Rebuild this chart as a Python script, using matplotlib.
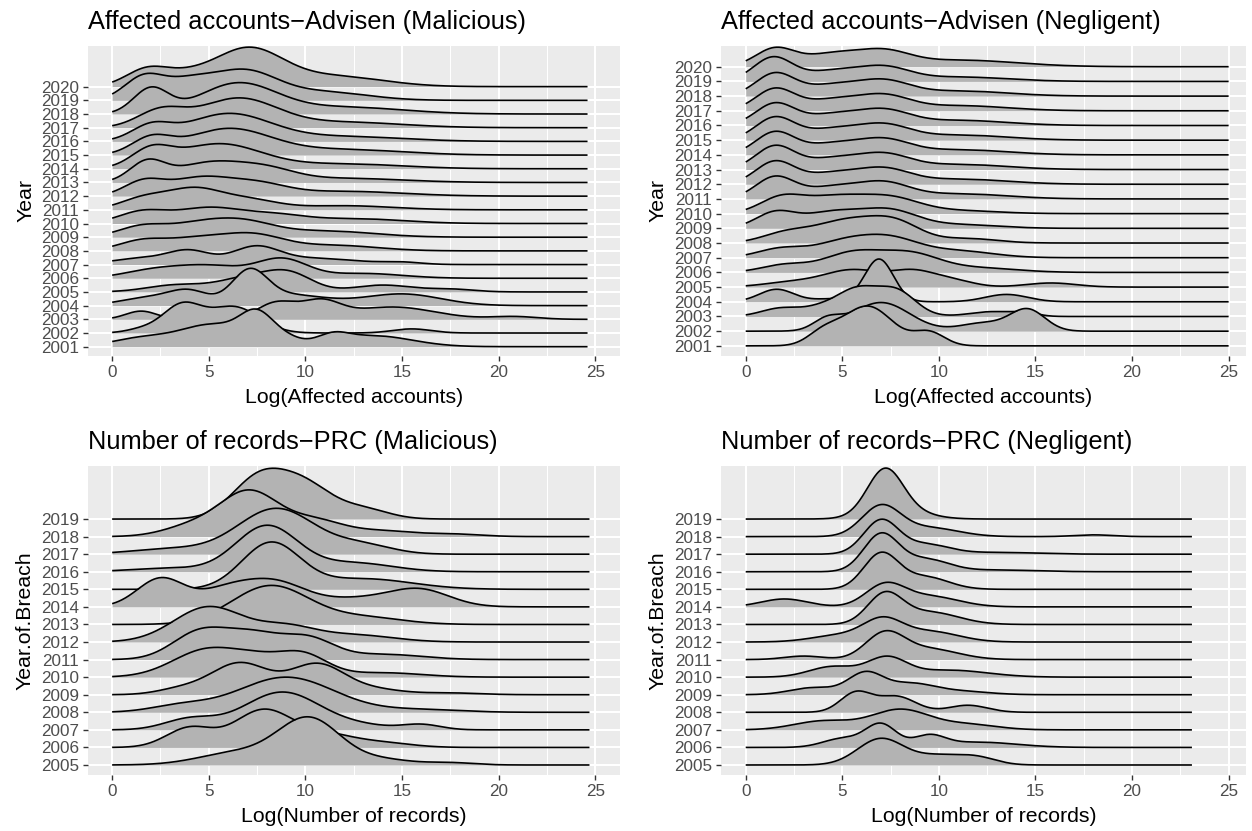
import numpy as np
import matplotlib.pyplot as plt

plt.rcParams['font.family'] = ['Liberation Sans', 'DejaVu Sans']

# ---- data: each ridge is a density given as Gaussian components (centre, sd, height in row units)
adv_years = list(range(2001, 2021))
prc_years = list(range(2005, 2020))

adv_malicious = [
    [(1.5, 1.5, 0.6), (5.2, 1.7, 1.6), (7.5, 0.85, 2.0), (9.0, 0.8, 0.5), (11.4, 0.8, 0.6), (13.5, 2.0, 0.8)],  # 2001
    [(1.5, 0.8, 0.25), (3.6, 1.0, 2.0), (6.3, 1.3, 1.9), (15.5, 1.0, 0.3)],                 # 2002
    [(1.5, 0.8, 0.6), (8.5, 1.0, 1.2), (10.8, 1.0, 1.2), (14.5, 2.2, 0.9), (20.8, 1.2, 0.2)],  # 2003
    [(2, 1.5, 0.6), (4, 1.0, 0.9), (7.1, 0.9, 2.2), (9, 2, 0.8), (15, 2.0, 0.85)],           # 2004
    [(3.3, 1.5, 0.5), (7, 1.5, 1.0), (9.2, 1.2, 1.2), (14, 1.5, 0.5), (17.5, 1.2, 0.2)],    # 2005
    [(2.0, 1.5, 0.5), (5.0, 1.8, 0.9), (8.8, 1.3, 1.35), (13, 2, 0.35)],                    # 2006
    [(1.5, 1.5, 0.45), (4.0, 1.1, 0.95), (7.4, 1.2, 1.2), (10.5, 2.2, 0.45), (15, 1, 0.15)],  # 2007
    [(1.5, 1.2, 0.7), (4.2, 1.5, 0.8), (7.2, 1.6, 1.15), (11.5, 2.2, 0.4)],                 # 2008
    [(1.5, 1.2, 0.75), (4.2, 1.5, 0.8), (6.7, 1.6, 1.05), (11, 2.5, 0.45)],                 # 2009
    [(1.5, 1.2, 0.8), (5.0, 1.8, 1.15), (8.5, 1.5, 0.5), (12.5, 2.5, 0.35)],                # 2010
    [(1.6, 1.2, 0.8), (4.2, 1.4, 1.45), (7, 1.5, 0.7), (12, 2.5, 0.3)],                     # 2011
    [(1.6, 1.0, 1.0), (4.5, 1.6, 1.3), (7.5, 1.5, 0.8), (12, 3, 0.35)],                     # 2012
    [(1.8, 0.9, 1.4), (5, 1.8, 1.4), (8, 1.5, 0.8), (12, 3, 0.3)],                          # 2013
    [(2, 1, 1.2), (5.5, 2.2, 1.8), (12, 3, 0.35)],                                          # 2014
    [(2, 1, 1.1), (6, 2.2, 1.9), (12, 3, 0.4)],                                             # 2015
    [(2, 1, 1.0), (6, 2.2, 2.0), (12, 3, 0.35)],                                            # 2016
    [(2.5, 1.2, 1.2), (6.5, 2, 2.1), (12, 3, 0.4)],                                         # 2017
    [(2, 0.9, 1.8), (6.5, 2, 2.2), (12, 3, 0.5)],                                           # 2018
    [(1.6, 1.0, 1.6), (3.8, 1.3, 1.2), (6.8, 1.7, 2.1), (11, 2.2, 0.6)],                    # 2019
    [(1.8, 1.1, 1.25), (3.8, 1.2, 0.6), (7.0, 1.8, 2.72), (11.5, 2.5, 0.75)],               # 2020
]

adv_negligent = [
    [(4.0, 0.8, 0.8), (6.3, 1.3, 2.7), (9.5, 0.8, 0.9)],                                    # 2001
    [(4.2, 0.7, 0.7), (7.0, 1.5, 1.95), (12.3, 1.2, 0.55), (14.6, 0.9, 1.45)],              # 2002
    [(1.8, 1.0, 0.55), (4.0, 1.0, 0.6), (5.8, 1.0, 1.7), (7.8, 1.0, 1.7), (12.8, 1.2, 0.33), (14.5, 0.6, 0.2)],  # 2003
    [(1.6, 0.9, 0.85), (4.5, 1.0, 0.2), (6.9, 0.75, 2.9), (13.5, 1.1, 0.5)],                # 2004
    [(2.5, 1.5, 0.35), (5.5, 1.4, 1.1), (8.7, 1.3, 1.1), (11, 1.0, 0.3), (15.8, 1.3, 0.28)],  # 2005
    [(2.0, 1.2, 0.5), (5.5, 1.5, 1.3), (8.5, 1.5, 1.2), (12, 2, 0.3)],                      # 2006
    [(1.8, 1.2, 0.6), (5.0, 1.5, 1.0), (7.5, 1.5, 1.2), (11, 1.8, 0.45)],                   # 2007
    [(2.0, 1.2, 0.6), (5.2, 1.7, 1.5), (7.8, 1.3, 1.2), (11.5, 1.5, 0.3)],                  # 2008
    [(1.5, 1.0, 1.0), (4.5, 1.6, 1.1), (7.5, 1.4, 1.1), (11, 2, 0.25)],                     # 2009
    [(1.8, 1.1, 1.0), (4.5, 1.6, 1.1), (7.5, 1.5, 1.0), (11, 2, 0.2)],                      # 2010
    [(1.5, 1.0, 1.45), (4.5, 1.5, 0.8), (7.2, 1.3, 0.95), (11, 2.5, 0.35)],                 # 2011
    [(1.5, 1.0, 1.5), (4.5, 1.5, 0.75), (7.2, 1.3, 0.9), (11, 2.5, 0.35)],                  # 2012
    [(1.5, 1.0, 1.55), (4.5, 1.5, 0.75), (7.2, 1.3, 0.9), (11, 2.5, 0.35)],                 # 2013
    [(1.5, 1.0, 1.5), (4.5, 1.5, 0.75), (7.2, 1.3, 0.9), (11, 2.5, 0.35)],                  # 2014
    [(1.5, 1.0, 1.5), (4.5, 1.5, 0.75), (7.2, 1.3, 0.9), (11, 2.5, 0.35)],                  # 2015
    [(1.5, 1.0, 1.45), (4.5, 1.5, 0.75), (7.2, 1.3, 0.9), (11, 2.5, 0.35)],                 # 2016
    [(1.5, 1.0, 1.45), (4.5, 1.5, 0.75), (7.2, 1.3, 0.9), (11, 2.5, 0.35)],                 # 2017
    [(1.5, 1.0, 1.5), (4.5, 1.5, 0.75), (7.2, 1.3, 0.9), (11, 2.5, 0.35)],                  # 2018
    [(1.4, 1.0, 1.6), (4.5, 1.5, 0.7), (7.2, 1.3, 0.85), (11, 2.5, 0.3)],                   # 2019
    [(1.5, 1.0, 1.2), (4.5, 1.5, 0.85), (7.2, 1.3, 0.85), (11, 3, 0.45)],                   # 2020
]

prc_malicious = [
    [(6.5, 2.0, 0.7), (10.2, 1.6, 2.6), (14, 1.5, 0.3), (17.5, 1.2, 0.13)],                 # 2005
    [(4.0, 1.2, 1.1), (7.8, 1.5, 2.1), (11, 1.5, 0.7), (14, 1.5, 0.25)],                    # 2006
    [(4, 1.3, 0.6), (8.8, 2.0, 2.15), (13, 1.5, 0.2), (16, 1, 0.3)],                        # 2007
    [(3.5, 1.5, 0.35), (9, 2.5, 2.0), (16, 2, 0.15)],                                       # 2008
    [(3.5, 1.2, 0.3), (6.6, 1.5, 1.8), (10.6, 1.4, 1.7), (13.5, 1.5, 0.3), (17.5, 1.5, 0.1)],  # 2009
    [(5.0, 1.8, 1.6), (7.5, 1.2, 0.6), (9.8, 1.3, 1.3), (14, 2, 0.25)],                     # 2010
    [(4.5, 1.4, 1.5), (7.3, 1.5, 1.4), (10.2, 1.3, 1.1), (14, 2, 0.3)],                     # 2011
    [(5.0, 1.8, 2.0), (9, 1.5, 0.8), (12.5, 2, 0.4)],                                       # 2012
    [(8.2, 2, 2.2), (13, 2, 0.4)],                                                          # 2013
    [(2.5, 1.2, 1.6), (6, 1.5, 1.0), (8.5, 1.5, 1.2), (13, 2.5, 0.5), (16, 1.5, 0.8)],      # 2014
    [(8.2, 1.5, 2.6), (13, 2.5, 0.6)],                                                      # 2015
    [(3, 2, 0.2), (8, 1.6, 2.6), (12.5, 2, 0.5)],                                           # 2016
    [(3, 2, 0.3), (8.5, 2.0, 2.6), (13, 1.5, 0.5)],                                         # 2017
    [(4.2, 1.5, 0.6), (7.1, 1.5, 2.5), (10.5, 1.5, 0.9), (14, 1.5, 0.3), (17.5, 1.5, 0.15)],  # 2018
    [(7.6, 1.4, 2.3), (10.0, 1.4, 1.8), (13, 1.3, 0.55)],                                   # 2019
]

prc_negligent = [
    [(7, 1.2, 1.5), (10, 1.2, 0.5), (12, 1, 0.4)],                                          # 2005
    [(5, 1, 0.5), (7, 0.8, 1.3), (9.5, 0.8, 0.6), (12, 2, 0.3)],                            # 2006
    [(4, 1.5, 0.5), (8, 1.5, 1.15), (11.5, 1.5, 0.3)],                                      # 2007
    [(5.7, 0.8, 1.1), (7.8, 1, 0.9), (11.5, 1, 0.4)],                                       # 2008
    [(3.5, 1.2, 0.4), (6.2, 0.9, 1.2), (8.5, 1.2, 0.6), (11, 1.5, 0.2)],                    # 2009
    [(4.5, 1.2, 0.6), (7.3, 1.0, 1.05), (10.5, 2, 0.4)],                                    # 2010
    [(3, 1, 0.2), (7.2, 1.0, 1.45), (9.5, 1.5, 0.6)],                                       # 2011
    [(5, 1.5, 0.4), (7.1, 1.0, 1.12), (9.5, 1.5, 0.6)],                                     # 2012
    [(7.2, 0.9, 1.65), (9.5, 1.5, 0.7)],                                                    # 2013
    [(2, 1.2, 0.45), (7.2, 1.0, 1.2), (9.5, 1.5, 0.6)],                                     # 2014
    [(7, 0.9, 2.0), (9.3, 1.2, 0.7)],                                                       # 2015
    [(7, 0.9, 2.1), (9.3, 1.2, 0.7), (13, 2, 0.1)],                                         # 2016
    [(7, 0.9, 1.9), (9.3, 1.2, 0.55), (13, 2, 0.1)],                                        # 2017
    [(7.0, 1.0, 1.7), (9.5, 1.5, 0.5), (18, 1, 0.1)],                                       # 2018
    [(7.2, 0.9, 2.35), (7.8, 1.4, 0.6)],                                                    # 2019
]

W, H = 1252, 831
fig = plt.figure(figsize=(W / 100, H / 100), dpi=100)
fig.patch.set_facecolor('white')

BG = '#EBEBEB'
FILL = '#B3B3B3'


def px_rect(l, t, r, b):
    return [l / W, 1 - b / H, (r - l) / W, (b - t) / H]


def ridge_panel(box, years, ridges, x_end, xlim, ylim, title, xlabel, ylabel, ylab_x):
    l, t, r, b = box
    ax = fig.add_axes(px_rect(l, t, r, b))
    ax.set_facecolor(BG)
    n = len(years)
    x = np.linspace(0, x_end, 800)
    for i in range(n - 1, -1, -1):
        dens = np.zeros_like(x)
        for mu, sd, h in ridges[i]:
            dens += h * np.exp(-0.5 * ((x - mu) / sd) ** 2)
        z = 3 + 2 * (n - i)
        ax.fill_between(x, i, i + dens, color=FILL, lw=0, zorder=z)
        ax.plot(x, i + dens, color='black', lw=1.2, zorder=z + 1,
                solid_capstyle='butt')
    ax.set_xlim(*xlim)
    ax.set_ylim(*ylim)
    ax.set_xticks([0, 5, 10, 15, 20, 25])
    ax.set_xticks([2.5, 7.5, 12.5, 17.5, 22.5], minor=True)
    ax.set_yticks(range(n))
    ax.set_yticklabels([str(y) for y in years])
    ax.grid(which='major', color='white', lw=1.5, zorder=1)
    ax.grid(which='minor', axis='x', color='white', lw=0.75, zorder=1)
    ax.set_axisbelow(True)
    for s in ax.spines.values():
        s.set_visible(False)
    ax.tick_params(which='major', length=3.8, width=1.0, color='#333333',
                   labelcolor='#4D4D4D', labelsize=12.3, pad=2.6)
    ax.tick_params(which='minor', length=0)
    fig.text(l / W, 1 - (t - 17) / H, title, fontsize=18.3, color='black',
             ha='left', va='baseline')
    fig.text((l + r) / 2 / W, 1 - (b + 47) / H, xlabel, fontsize=15.3,
             color='black', ha='center', va='baseline')
    fig.text(ylab_x / W, 1 - (t + b) / 2 / H, ylabel, fontsize=15.3, color='black',
             ha='center', va='baseline', rotation=90, rotation_mode='anchor')
    return ax


ridge_panel((88, 46, 620, 356), adv_years, adv_malicious, 24.6,
            (-1.25, 26.28), (-0.68, 21.97),
            'Affected accounts\u2212Advisen (Malicious)', 'Log(Affected accounts)', 'Year', 31)
ridge_panel((721, 46, 1246, 356), adv_years, adv_negligent, 25.0,
            (-1.28, 25.9), (-0.69, 20.41),
            'Affected accounts\u2212Advisen (Negligent)', 'Log(Affected accounts)', 'Year', 664)
ridge_panel((88, 466, 620, 775), prc_years, prc_malicious, 24.7,
            (-1.25, 26.28), (-0.57, 17.02),
            'Number of records\u2212PRC (Malicious)', 'Log(Number of records)', 'Year.of.Breach', 31)
ridge_panel((721, 466, 1246, 775), prc_years, prc_negligent, 23.1,
            (-1.28, 25.9), (-0.57, 17.02),
            'Number of records\u2212PRC (Negligent)', 'Log(Number of records)', 'Year.of.Breach', 664)

fig.savefig('out.png', dpi=100, facecolor='white')
